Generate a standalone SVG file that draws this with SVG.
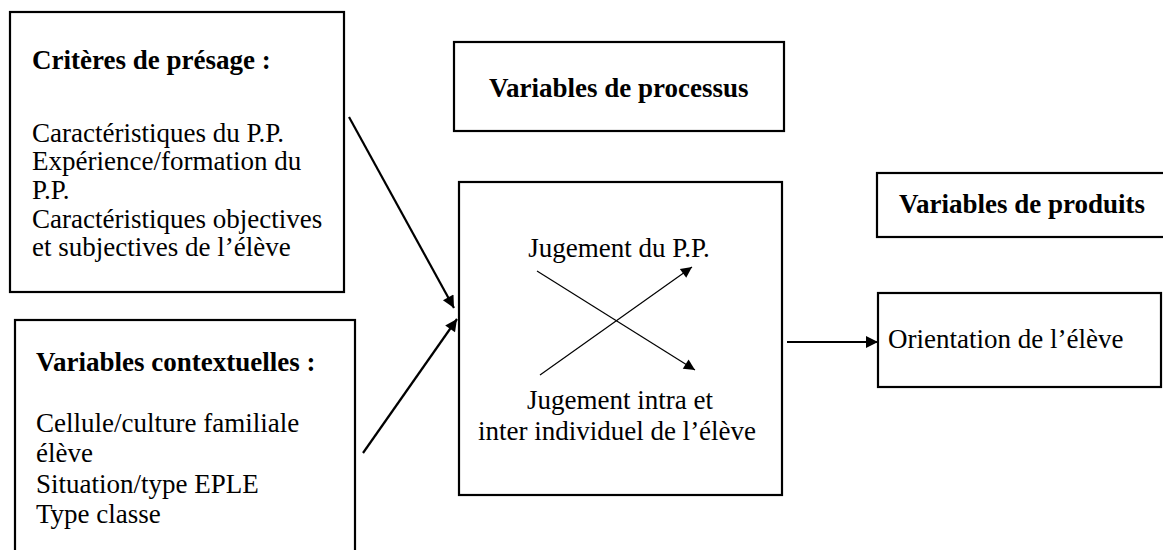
<svg xmlns="http://www.w3.org/2000/svg" width="1163" height="550" viewBox="0 0 1163 550">
<style>
.box{fill:#fff;stroke:#000;stroke-width:2.2}
.t{font-family:"Liberation Serif","Times New Roman","DejaVu Serif",serif;font-size:27px;fill:#000}
.b{font-weight:bold}
.m{text-anchor:middle}
.c1{stroke:#000;stroke-width:2.2;fill:none}
.c2{stroke:#000;stroke-width:1.2;fill:none}
</style>
<defs>
<marker id="ah" viewBox="0 0 10 10" refX="10" refY="5" markerWidth="13" markerHeight="11" markerUnits="userSpaceOnUse" orient="auto">
<path d="M0,0 L10,5 L0,10 z" fill="#000"/>
</marker>
<marker id="ah1" viewBox="0 0 10 10" refX="10" refY="5" markerWidth="15" markerHeight="12" markerUnits="userSpaceOnUse" orient="auto">
<path d="M0,0 L10,5 L0,10 z" fill="#000"/>
</marker>
</defs>
<g id="presage">
<rect class="box" x="10" y="12" width="334" height="280"/>
<text class="t b" x="32" y="69">Critères de présage :</text>
<text class="t" x="32" y="142">Caractéristiques du P.P.</text>
<text class="t" x="32" y="170">Expérience/formation du</text>
<text class="t" x="32" y="199">P.P.</text>
<text class="t" x="32" y="228">Caractéristiques objectives</text>
<text class="t" x="32" y="256">et subjectives de l’élève</text>
</g>
<g id="contexte">
<rect class="box" x="15" y="320" width="340" height="240"/>
<text class="t b" x="36" y="371">Variables contextuelles :</text>
<text class="t" x="36" y="432">Cellule/culture familiale</text>
<text class="t" x="36" y="462">élève</text>
<text class="t" x="36" y="493">Situation/type EPLE</text>
<text class="t" x="36" y="523">Type classe</text>
</g>
<g id="processus">
<rect class="box" x="454" y="42" width="330" height="89"/>
<text class="t b" x="489" y="97">Variables de processus</text>
</g>
<g id="jugement">
<rect class="box" x="459" y="182" width="323" height="313"/>
<text class="t m" x="619" y="257">Jugement du P.P.</text>
<text class="t m" x="620" y="409">Jugement intra et</text>
<text class="t m" x="617" y="440">inter individuel de l’élève</text>
</g>
<g id="produits">
<rect class="box" x="877" y="173" width="300" height="64"/>
<text class="t b" x="899" y="213">Variables de produits</text>
</g>
<g id="orientation">
<rect class="box" x="878" y="293" width="283" height="94"/>
<text class="t" x="888" y="348">Orientation de l’élève</text>
</g>
<g id="connectors">
<line class="c1" x1="349" y1="117" x2="454" y2="308" marker-end="url(#ah1)"/>
<line class="c1" x1="363" y1="453" x2="457" y2="319" marker-end="url(#ah1)"/>
<line class="c2" x1="537" y1="271" x2="695" y2="370" marker-end="url(#ah)"/>
<line class="c2" x1="540" y1="375" x2="692" y2="267" marker-end="url(#ah)"/>
<line class="c1" x1="787" y1="342" x2="878" y2="342" marker-end="url(#ah1)"/>
</g>
</svg>
